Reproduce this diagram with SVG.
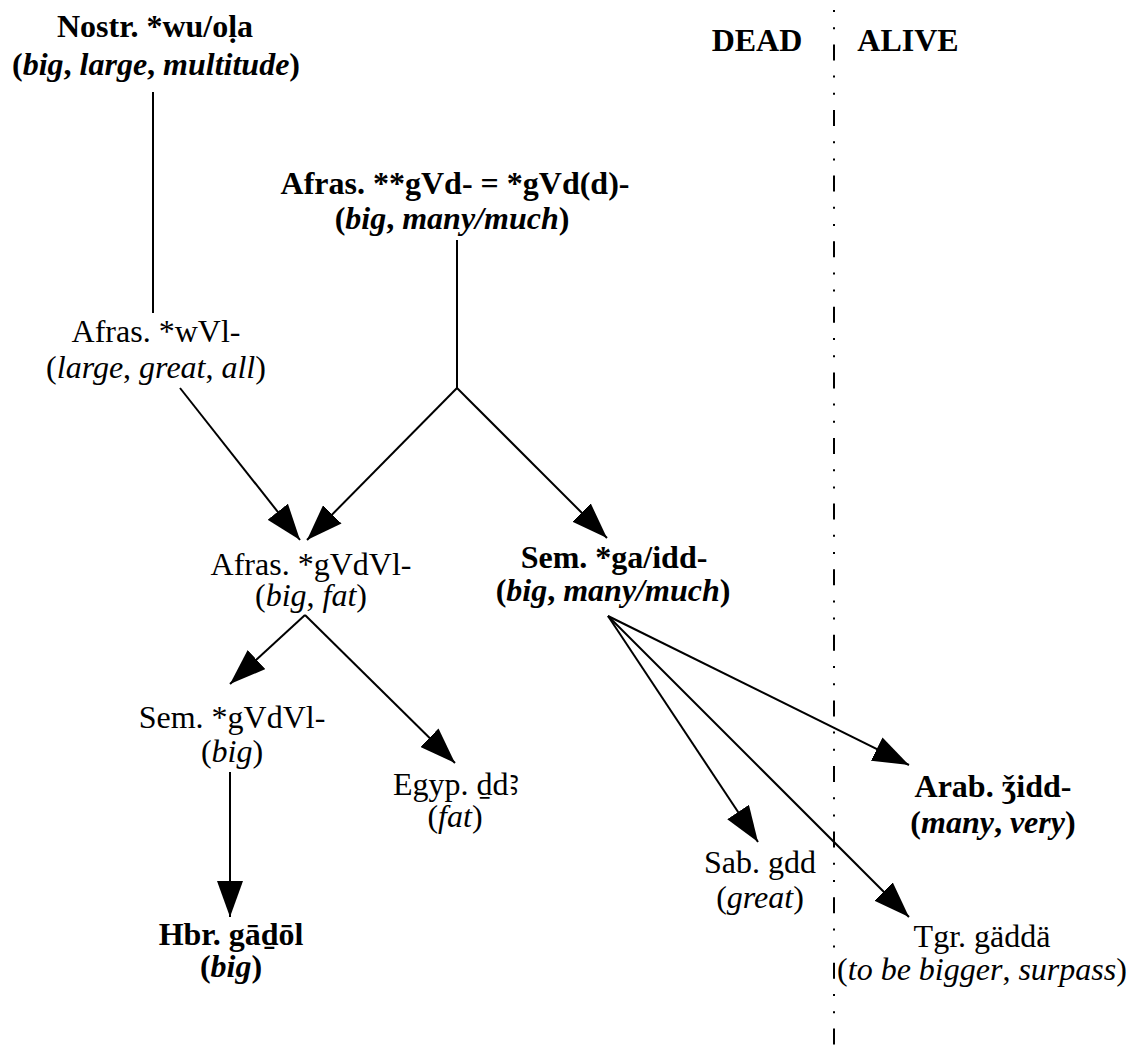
<svg xmlns="http://www.w3.org/2000/svg" width="1131" height="1056" viewBox="0 0 1131 1056">
<style>
text{font-family:"Liberation Serif","DejaVu Serif","Noto Sans",serif;font-size:32px;fill:#000;text-anchor:middle}
.b{font-weight:bold}
.i{font-style:italic}
.ln{stroke:#000;stroke-width:2;fill:none}
.arr{stroke:#000;stroke-width:2;fill:none;marker-end:url(#ah)}
.sep{stroke:#000;stroke-width:2;fill:none;stroke-dasharray:2 15.2 2 15.2 16 15.2}
</style>
<defs>
<marker id="ah" viewBox="0 0 36 26" refX="36" refY="13" markerWidth="36" markerHeight="26" markerUnits="userSpaceOnUse" orient="auto">
<path d="M0,0 L36,13 L0,26 Z" fill="#000"/>
</marker>
</defs>
<rect width="1131" height="1056" fill="#fff"/>
<g id="connectors">
<line class="sep" x1="834" y1="10" x2="834" y2="1045"/>
<line class="ln" x1="153" y1="92" x2="153" y2="313"/>
<line class="ln" x1="457" y1="240" x2="457" y2="388"/>
<line class="arr" x1="180" y1="388" x2="300" y2="540"/>
<line class="arr" x1="457" y1="388" x2="307" y2="540"/>
<line class="arr" x1="457" y1="388" x2="607" y2="538"/>
<line class="arr" x1="305" y1="615" x2="230" y2="684"/>
<line class="arr" x1="305" y1="615" x2="455" y2="763"/>
<line class="arr" x1="230" y1="772" x2="230" y2="917"/>
<line class="arr" x1="608" y1="616" x2="758" y2="842"/>
<line class="arr" x1="608" y1="616" x2="909" y2="917"/>
<line class="arr" x1="608" y1="616" x2="909" y2="765"/>
</g>
<g id="labels">
<text class="b" x="757" y="51">DEAD</text>
<text class="b" x="908" y="51">ALIVE</text>
</g>
<g id="nostr">
<text class="b" x="155" y="37">Nostr. *wu/oḷa</text>
<text class="b" x="156" y="75">(<tspan class="i">big</tspan>, <tspan class="i">large</tspan>, <tspan class="i">multitude</tspan>)</text>
</g>
<g id="afras-gvd">
<text class="b" x="455" y="194">Afras. **gVd- = *gVd(d)-</text>
<text class="b" x="452" y="229">(<tspan class="i">big</tspan>, <tspan class="i">many/much</tspan>)</text>
</g>
<g id="afras-wvl">
<text x="156" y="342">Afras. *wVl-</text>
<text x="156" y="378">(<tspan class="i">large</tspan>, <tspan class="i">great</tspan>, <tspan class="i">all</tspan>)</text>
</g>
<g id="afras-gvdvl">
<text x="311" y="575">Afras. *gVdVl-</text>
<text x="311" y="606">(<tspan class="i">big</tspan>, <tspan class="i">fat</tspan>)</text>
</g>
<g id="sem-gaidd">
<text class="b" x="614" y="568">Sem. *ga/idd-</text>
<text class="b" x="613" y="601">(<tspan class="i">big</tspan>, <tspan class="i">many/much</tspan>)</text>
</g>
<g id="sem-gvdvl">
<text x="232" y="728">Sem. *gVdVl-</text>
<text x="232" y="762">(<tspan class="i">big</tspan>)</text>
</g>
<g id="egyp">
<text x="456" y="795">Egyp. ḏdꜣ</text>
<text x="455" y="827">(<tspan class="i">fat</tspan>)</text>
</g>
<g id="hbr">
<text class="b" x="231" y="945">Hbr. gāḏōl</text>
<text class="b" x="231" y="977">(<tspan class="i">big</tspan>)</text>
</g>
<g id="sab">
<text x="760" y="873">Sab. gdd</text>
<text x="760" y="908">(<tspan class="i">great</tspan>)</text>
</g>
<g id="arab">
<text class="b" x="993" y="797">Arab. ǯidd-</text>
<text class="b" x="993" y="833">(<tspan class="i">many</tspan>, <tspan class="i">very</tspan>)</text>
</g>
<g id="tgr">
<text x="982" y="947">Tgr. gäddä</text>
<text x="982" y="980">(<tspan class="i">to be bigger</tspan>, <tspan class="i">surpass</tspan>)</text>
</g>
</svg>
